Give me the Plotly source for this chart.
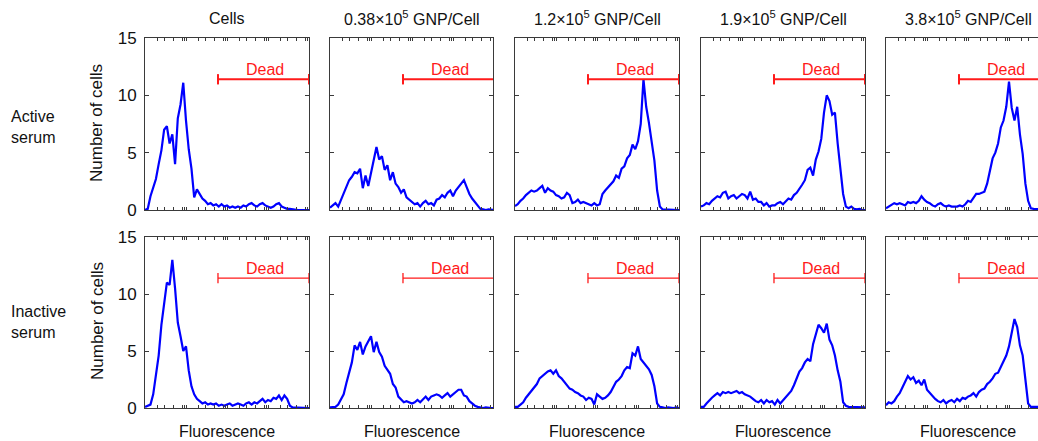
import numpy as np
import plotly.graph_objects as go
from plotly.subplots import make_subplots

# ---------------- data ----------------
conditions = ["Cells", "0.38×10<sup>5</sup> GNP/Cell", "1.2×10<sup>5</sup> GNP/Cell",
              "1.9×10<sup>5</sup> GNP/Cell", "3.8×10<sup>5</sup> GNP/Cell"]
serum_rows = ["Active<br>serum", "Inactive<br>serum"]
x_title = "Fluorescence"
y_title = "Number of cells"
gate_label = "Dead"

n_bins = 61
log_fluorescence = np.linspace(0, 4, n_bins)   # bin centres (decades of fluorescence)

active_cells = [0, 0.1, 1.2, 2.0, 2.7, 4.0, 5.2, 7.0, 7.3, 5.8, 6.6, 4.0, 8.0, 9.2, 11.1, 7.8, 5.3, 3.6,
                1.1, 1.8, 1.4, 1.0, 0.8, 0.5, 0.6, 0.4, 0.5, 0.3, 0.5, 0.3, 0.4, 0.2, 0.3, 0.2, 0.3, 0.2,
                0.4, 0.3, 0.5, 0.6, 0.4, 0.3, 0.5, 0.6, 0.4, 0.3, 0.2, 0.3, 0.5, 0.6, 0.3, 0.2, 0.1, 0.1,
                0.05, 0, 0, 0, 0, 0, 0]
active_038 = [0.2, 0.4, 0.6, 0.3, 0.9, 1.5, 2.1, 2.6, 2.9, 3.3, 3.2, 3.6, 1.9, 3.0, 2.1, 3.2, 4.5, 5.5,
              4.4, 4.7, 3.5, 3.9, 2.6, 3.3, 2.3, 2.0, 1.5, 1.8, 1.1, 0.9, 0.7, 0.5, 0.6, 0.3, 0.6, 0.8,
              0.5, 0.6, 0.4, 0.9, 1.0, 1.3, 1.1, 1.5, 1.7, 1.2, 1.7, 2.0, 2.2, 2.6, 2.0, 1.4, 1.0, 0.7,
              0.4, 0.1, 0.05, 0, 0.05, 0, 0]
active_12 = [0.35, 0.5, 0.8, 1.0, 1.3, 1.5, 1.7, 1.6, 1.7, 1.9, 2.1, 1.5, 1.9, 1.7, 1.6, 1.3, 1.2, 1.0,
             1.1, 1.5, 1.3, 0.6, 0.7, 0.9, 0.6, 0.7, 0.6, 0.5, 0.4, 0.6, 0.4, 0.5, 1.4, 1.7, 2.0, 2.3,
             2.5, 3.0, 2.8, 3.6, 3.8, 4.5, 4.8, 5.7, 5.3, 6.0, 7.5, 11.4, 9.0, 7.6, 5.8, 4.3, 1.7, 0.3,
             0.05, 0.05, 0, 0, 0.05, 0, 0]
active_19 = [0.3, 0.4, 0.6, 0.5, 0.8, 1.0, 1.2, 1.1, 1.5, 1.6, 1.0, 1.2, 1.3, 1.0, 1.2, 1.4, 1.3, 1.0,
             1.6, 0.9, 1.0, 0.7, 0.7, 0.4, 0.6, 0.3, 0.4, 0.4, 0.6, 0.7, 0.5, 0.8, 1.0, 0.9, 1.3, 1.5,
             1.8, 2.2, 2.6, 3.5, 3.7, 3.0, 4.4, 5.1, 6.2, 8.5, 10.0, 9.5, 8.3, 8.5, 5.8, 3.4, 1.4, 0.3,
             0.15, 0.3, 0.1, 0.05, 0.1, 0, 0]
active_38 = [0.15, 0.3, 0.4, 0.6, 0.5, 0.6, 0.5, 0.4, 0.7, 0.6, 0.7, 0.6, 0.8, 1.2, 0.9, 0.7, 0.6, 0.4,
             0.3, 0.5, 0.6, 0.4, 0.3, 0.4, 0.3, 0.3, 0.3, 0.4, 0.3, 0.5, 0.8, 0.7, 1.0, 1.4, 1.4, 1.5,
             1.6, 2.3, 3.4, 4.5, 5.0, 5.8, 7.2, 7.8, 9.0, 11.2, 8.9, 7.8, 9.0, 6.6, 4.9, 2.3, 0.8, 0.15,
             0.1, 0.1, 0.05, 0.05, 0, 0, 0]

inactive_cells = [0.1, 0.2, 0.3, 1.2, 2.8, 4.6, 7.3, 9.2, 11.0, 10.8, 13.0, 10.5, 7.5, 6.3, 5.0, 5.4, 3.3,
                  1.9, 1.2, 0.8, 0.6, 0.4, 0.5, 0.3, 0.4, 0.3, 0.4, 0.2, 0.3, 0.2, 0.3, 0.4, 0.2, 0.3,
                  0.4, 0.3, 0.2, 0.4, 0.5, 0.3, 0.5, 0.4, 0.6, 0.8, 0.5, 0.7, 0.6, 0.9, 0.8, 1.1, 0.7,
                  1.1, 0.8, 0.2, 0.05, 0.05, 0, 0, 0, 0, 0]
inactive_038 = [0.05, 0.05, 0.1, 0.3, 0.7, 1.2, 2.2, 3.2, 4.0, 5.5, 5.1, 5.8, 4.7, 5.4, 5.8, 6.3, 4.9, 5.8,
                4.9, 4.5, 3.7, 3.4, 3.0, 2.1, 1.8, 1.0, 0.7, 0.5, 0.6, 0.5, 0.4, 0.5, 0.7, 0.5, 0.8, 1.0,
                0.7, 1.0, 1.1, 1.2, 1.1, 0.9, 1.1, 1.3, 1.0, 1.2, 1.4, 1.6, 1.6, 1.1, 1.0, 0.6, 0.4, 0.2,
                0.1, 0.05, 0, 0.05, 0, 0, 0]
inactive_12 = [0.1, 0.1, 0.3, 0.5, 0.9, 1.2, 1.5, 1.9, 2.1, 2.6, 2.8, 3.0, 3.2, 3.3, 3.0, 3.3, 2.8, 2.6,
               2.3, 2.1, 1.7, 1.6, 1.4, 1.3, 1.1, 1.0, 0.7, 0.9, 0.8, 0.3, 1.2, 1.0, 0.8, 0.9, 1.1, 1.4,
               1.9, 2.3, 2.5, 2.8, 3.3, 3.6, 3.5, 4.8, 4.6, 5.4, 4.3, 4.0, 3.7, 3.4, 2.9, 1.9, 0.4, 0.1,
               0.05, 0, 0.05, 0, 0, 0.05, 0]
inactive_19 = [0.1, 0.1, 0.4, 0.7, 0.9, 1.1, 1.3, 1.1, 1.4, 1.3, 1.4, 1.3, 1.4, 1.5, 1.3, 1.4, 1.2, 1.1,
               1.0, 0.8, 0.6, 0.5, 0.7, 0.4, 0.7, 0.5, 0.6, 0.3, 0.7, 0.4, 0.7, 0.9, 1.2, 1.5, 2.0, 2.6,
               3.2, 3.5, 4.0, 4.3, 4.1, 5.6, 6.5, 7.3, 7.0, 6.6, 7.4, 6.0, 5.5, 4.6, 3.3, 2.3, 0.5, 0.2,
               0.1, 0.1, 0.05, 0.1, 0.05, 0.1, 0.05]
inactive_38 = [0.25, 0.5, 0.4, 0.6, 1.0, 1.3, 1.8, 2.3, 2.8, 2.5, 2.7, 2.2, 2.4, 2.0, 2.5, 1.6, 1.3, 1.1,
               0.8, 0.6, 0.5, 0.7, 0.4, 0.6, 0.7, 0.5, 0.8, 0.6, 0.9, 0.8, 1.0, 1.1, 1.3, 1.0, 1.4, 1.6,
               1.7, 2.1, 2.3, 2.6, 3.0, 3.1, 3.6, 4.2, 4.6, 5.4, 6.6, 7.8, 7.1, 5.5, 4.6, 2.4, 0.4, 0.1,
               0.1, 0.05, 0.1, 0, 0, 0, 0]

histograms = [
    [active_cells, active_038, active_12, active_19, active_38],
    [inactive_cells, inactive_038, inactive_12, inactive_19, inactive_38],
]

dead_gate_start = 1.78
dead_gate_end = 4.0
dead_gate_level = 11.4
dead_gate_cap = 0.45
dead_label_x = 2.92
dead_label_y = 12.25
y_ticks = [0, 5, 10, 15]
# minor log-decade tick marks along the fluorescence axis
x_tick_positions = [d + np.log10(k) for d in range(4) for k in (2, 3, 5, 8, 9, 10)]

# ---------------- layout geometry (pixels) ----------------
W, H = 1038, 441
col_px = [(145, 309), (330, 493), (515, 679), (701, 865), (886, 1038)]
row_px = [(38, 210), (237, 408)]
full_panel_w = 164

BLUE = "#0000FF"
RED = "#FF1A1A"
AXIS = "#3a3a3a"
FONT = "Liberation Sans, Arial, sans-serif"

fig = make_subplots(rows=2, cols=5)

for r in range(2):
    for c in range(5):
        ys = histograms[r][c]
        fig.add_trace(go.Scatter(x=log_fluorescence, y=ys, mode="lines",
                                 line=dict(color=BLUE, width=2.2),
                                 hoverinfo="skip", showlegend=False),
                      row=r + 1, col=c + 1)
        gx = [dead_gate_start, dead_gate_start, None, dead_gate_start, dead_gate_end, None,
              dead_gate_end, dead_gate_end]
        gy = [dead_gate_level - dead_gate_cap, dead_gate_level + dead_gate_cap, None,
              dead_gate_level, dead_gate_level, None,
              dead_gate_level - dead_gate_cap, dead_gate_level + dead_gate_cap]
        fig.add_trace(go.Scatter(x=gx, y=gy, mode="lines",
                                 line=dict(color=RED, width=2 if r == 0 else 1.3),
                                 hoverinfo="skip", showlegend=False),
                      row=r + 1, col=c + 1)

        x0, x1 = col_px[c]
        top, bot = row_px[r]
        xmax = 4.0 * (x1 - x0) / full_panel_w
        fig.update_xaxes(domain=[x0 / W, x1 / W], range=[0, xmax], automargin=False,
                         showgrid=False, zeroline=False, showline=True, linecolor=AXIS, linewidth=1,
                         mirror="allticks", ticks="inside", ticklen=3, tickcolor=AXIS,
                         tickvals=x_tick_positions, showticklabels=False,
                         row=r + 1, col=c + 1)
        fig.update_yaxes(domain=[1 - bot / H, 1 - top / H], range=[0, 15], automargin=False,
                         showgrid=False, zeroline=False, showline=True, linecolor=AXIS, linewidth=1,
                         mirror="allticks" if c < 4 else False, ticks="inside", ticklen=4, tickcolor=AXIS,
                         tickvals=y_ticks, showticklabels=(c == 0),
                         tickfont=dict(size=17, color="#111", family=FONT),
                         ticklabelstandoff=4,
                         row=r + 1, col=c + 1)

annotations = []
for c, title in enumerate(conditions):
    x0, _ = col_px[c]
    cx = (x0 + full_panel_w / 2) / W
    annotations.append(dict(text=title, x=cx, y=1 - 18 / H, xref="paper", yref="paper",
                            xanchor="center", yanchor="middle",
                            showarrow=False, font=dict(size=16, color="#111", family=FONT)))
    annotations.append(dict(text=x_title, x=cx, y=1 - 431 / H, xref="paper", yref="paper",
                            xanchor="center", yanchor="middle",
                            showarrow=False, font=dict(size=16, color="#111", family=FONT)))
row_label_y = [127, 322]
y_title_y = [123, 321]
for r, lab in enumerate(serum_rows):
    annotations.append(dict(text=lab, x=9 / W, y=1 - row_label_y[r] / H, xref="paper", yref="paper",
                            xanchor="left", yanchor="middle",
                            showarrow=False, align="left",
                            font=dict(size=16, color="#111", family=FONT)))
    annotations.append(dict(text=y_title, x=97 / W, y=1 - y_title_y[r] / H, xref="paper", yref="paper",
                            xanchor="center", yanchor="middle",
                            showarrow=False, textangle=-90,
                            font=dict(size=17, color="#111", family=FONT)))
for r in range(2):
    for c in range(5):
        idx = r * 5 + c + 1
        suffix = "" if idx == 1 else str(idx)
        annotations.append(dict(text=gate_label, x=dead_label_x, y=dead_label_y,
                                xref="x" + suffix, yref="y" + suffix, showarrow=False,
                                xanchor="center", yanchor="middle",
                                font=dict(size=16, color=RED, family=FONT)))

fig.update_layout(template="none", width=W, height=H, autosize=False,
                  margin=dict(l=0, r=0, t=0, b=0, pad=0, autoexpand=False),
                  paper_bgcolor="white", plot_bgcolor="white",
                  annotations=annotations, showlegend=False)

fig.write_html("out.html", config={"displayModeBar": False},
               post_script="document.body.style.margin='0';document.body.style.overflow='hidden';")
